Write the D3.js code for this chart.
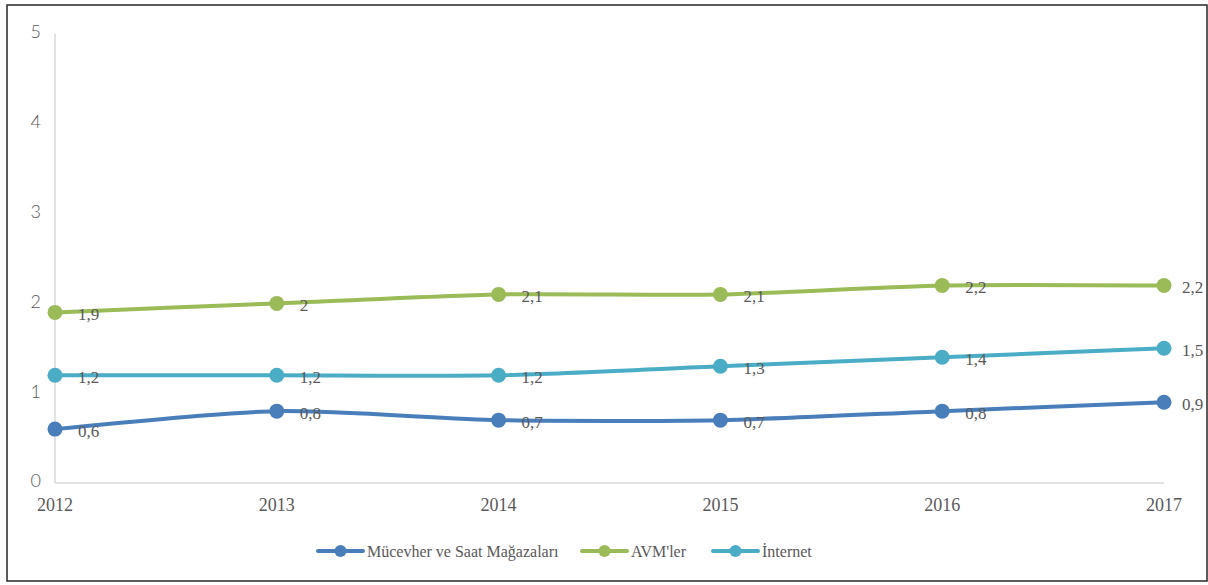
<!DOCTYPE html>
<html><head><meta charset="utf-8">
<script src="https://cdn.jsdelivr.net/npm/d3@7"></script>
<style>body{margin:0;background:#fff;} svg{display:block;}</style>
</head><body>
<svg id="c" width="1208" height="585"></svg>
<script>
const years = ["2012","2013","2014","2015","2016","2017"];
const mucevher = [0.6,0.8,0.7,0.7,0.8,0.9];
const avm = [1.9,2,2.1,2.1,2.2,2.2];
const internet = [1.2,1.2,1.2,1.3,1.4,1.5];
const yTicks = [0,1,2,3,4,5];
const seriesNames = ["Mücevher ve Saat Mağazaları","AVM'ler","İnternet"];
const seriesColors = ["#4A7EBB","#9BBB59","#4BACC6"];

const svg = d3.select("#c");
const font = "'Liberation Serif','Times New Roman',serif";
const sans = "Lato,'Open Sans',sans-serif";
svg.append("rect").attr("x",7).attr("y",5).attr("width",1200).attr("height",576)
  .attr("fill","#fff").attr("stroke","#262626").attr("stroke-width",1.5);

const x = d3.scalePoint().domain(years).range([55,1164]);
const y = d3.scaleLinear().domain([0,5]).range([483,34]);

// axes
svg.append("line").attr("x1",x(years[0])).attr("x2",x(years[0])).attr("y1",y(5)).attr("y2",y(0))
  .attr("stroke","#D9D9D9").attr("stroke-width",1.5);
svg.append("line").attr("x1",x(years[0])).attr("x2",x(years[5])).attr("y1",y(0)).attr("y2",y(0))
  .attr("stroke","#D9D9D9").attr("stroke-width",1.5);

svg.selectAll(".yt").data(yTicks).enter().append("text")
  .attr("x",41).attr("y",d=>y(d)-2).attr("dy","0.35em").attr("text-anchor","end")
  .attr("font-family",sans).attr("font-weight",300).attr("font-size",18).attr("fill","#595959").text(d=>d);
svg.selectAll(".xt").data(years).enter().append("text")
  .attr("x",d=>x(d)).attr("y",505).attr("dy","0.35em").attr("text-anchor","middle")
  .attr("font-family",font).attr("font-size",18).attr("fill","#595959").text(d=>d);

const data = [mucevher, avm, internet];
const line = d3.line().x((d,i)=>x(years[i])).y(d=>y(d)).curve(d3.curveCardinal.tension(0.3));
data.forEach((s,k)=>{
  const g = svg.append("g");
  g.append("path").attr("d",line(s)).attr("fill","none").attr("stroke",seriesColors[k])
    .attr("stroke-width",4).attr("stroke-linecap","round");
  g.selectAll("circle").data(s).enter().append("circle")
    .attr("cx",(d,i)=>x(years[i])).attr("cy",d=>y(d)).attr("r",7.5).attr("fill",seriesColors[k]);
  g.selectAll("text").data(s).enter().append("text")
    .attr("x",(d,i)=>x(years[i])+(i===s.length-1?18:23)).attr("y",d=>y(d)+2).attr("dy","0.35em")
    .attr("font-family",font).attr("font-size",17).attr("fill","#595959")
    .text(d=>String(d).replace(".",","));
});

// legend
const legX = [318,582,713];
seriesNames.forEach((n,k)=>{
  const lx = legX[k], ly = 551;
  svg.append("line").attr("x1",lx).attr("x2",lx+45).attr("y1",ly).attr("y2",ly)
    .attr("stroke",seriesColors[k]).attr("stroke-width",4).attr("stroke-linecap","round");
  svg.append("circle").attr("cx",lx+22.5).attr("cy",ly).attr("r",6).attr("fill",seriesColors[k]);
  svg.append("text").attr("x",lx+49).attr("y",ly).attr("dy","0.35em")
    .attr("font-family",font).attr("font-size",16).attr("fill","#595959").text(n);
});
</script>
</body></html>
